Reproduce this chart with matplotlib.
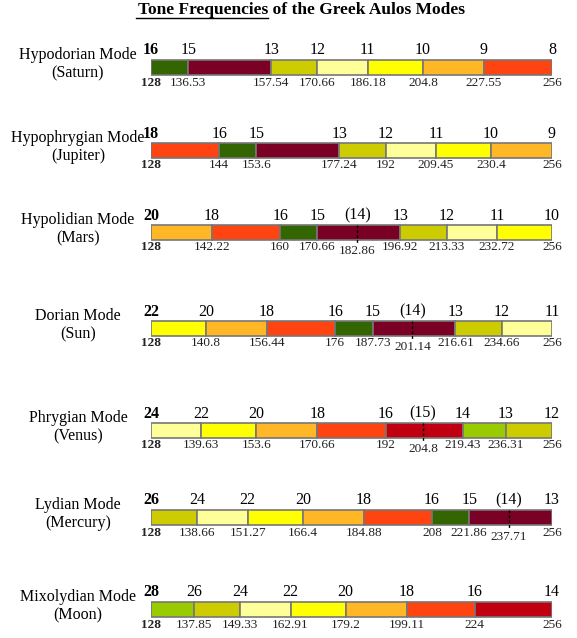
import matplotlib.pyplot as plt
from matplotlib.patches import Rectangle

plt.rcParams['font.family'] = ['Liberation Serif', 'DejaVu Serif']

GREEN = '#336600'
MAROON = '#7a0026'
OLIVE = '#cccc00'
PALE = '#ffff99'
YELLOW = '#ffff00'
ORANGE = '#ffb726'
RED = '#ff4411'
CRIMSON = '#c00010'
LIME = '#99cc00'

modeNames = ['Hypodorian Mode', 'Hypophrygian Mode', 'Hypolidian Mode', 'Dorian Mode',
             'Phrygian Mode', 'Lydian Mode', 'Mixolydian Mode']
planets = ['(Saturn)', '(Jupiter)', '(Mars)', '(Sun)', '(Venus)', '(Mercury)', '(Moon)']

# harmonic numbers at each boundary, strings in () are dashed marks
harmonics = [
    ['16', '15', '13', '12', '11', '10', '9', '8'],
    ['18', '16', '15', '13', '12', '11', '10', '9'],
    ['20', '18', '16', '15', '(14)', '13', '12', '11', '10'],
    ['22', '20', '18', '16', '15', '(14)', '13', '12', '11'],
    ['24', '22', '20', '18', '16', '(15)', '14', '13', '12'],
    ['26', '24', '22', '20', '18', '16', '15', '(14)', '13'],
    ['28', '26', '24', '22', '20', '18', '16', '14'],
]
freqs = [
    [128, 136.53, 157.54, 170.66, 186.18, 204.8, 227.55, 256],
    [128, 144, 153.6, 177.24, 192, 209.45, 230.4, 256],
    [128, 142.22, 160, 170.66, 182.86, 196.92, 213.33, 232.72, 256],
    [128, 140.8, 156.44, 176, 187.73, 201.14, 216.61, 234.66, 256],
    [128, 139.63, 153.6, 170.66, 192, 204.8, 219.43, 236.31, 256],
    [128, 138.66, 151.27, 166.4, 184.88, 208, 221.86, 237.71, 256],
    [128, 137.85, 149.33, 162.91, 179.2, 199.11, 224, 256],
]
segColors = [
    [GREEN, MAROON, OLIVE, PALE, YELLOW, ORANGE, RED],
    [RED, GREEN, MAROON, OLIVE, PALE, YELLOW, ORANGE],
    [ORANGE, RED, GREEN, MAROON, OLIVE, PALE, YELLOW],
    [YELLOW, ORANGE, RED, GREEN, MAROON, OLIVE, PALE],
    [PALE, YELLOW, ORANGE, RED, CRIMSON, LIME, OLIVE],
    [OLIVE, PALE, YELLOW, ORANGE, RED, GREEN, MAROON],
    [LIME, OLIVE, PALE, YELLOW, ORANGE, RED, CRIMSON],
]

W, H = 577, 638
rowY = [67, 150, 232, 328, 430, 517, 609]   # bar centres in pixels
barH = 15

fig = plt.figure(figsize=(W / 100, H / 100), dpi=100)
ax = fig.add_axes([151 / W, 0, 401 / W, 1])
ax.set_xscale('log', base=2)
ax.set_xlim(128, 256)
ax.set_ylim(H, 0)
ax.axis('off')

for i in range(len(modeNames)):
    y = rowY[i]
    f = freqs[i]
    labs = harmonics[i]
    solid = [k for k in range(len(f)) if not labs[k].startswith('(')]
    for s in range(len(solid) - 1):
        a, b = f[solid[s]], f[solid[s + 1]]
        ax.add_patch(Rectangle((a, y - barH / 2), b - a, barH, facecolor=segColors[i][s],
                               edgecolor='#777777', linewidth=1.2))
    for k in range(len(f)):
        w = 'bold' if k == 0 else 'normal'
        low = 0
        if labs[k].startswith('('):
            ax.plot([f[k], f[k]], [y - barH / 2, y + barH / 2 + 4], color='black',
                    linestyle=(0, (2, 1.5)), linewidth=1)
            low = 4
        ax.text(f[k], y - barH / 2 - 1, labs[k], ha='center', va='bottom', fontsize=11.5,
                fontweight=w, clip_on=False)
        ax.text(f[k], y + barH / 2 + 2 + low, f'{f[k]:g}', ha='center', va='top', fontsize=9.5,
                fontweight=w, clip_on=False, color='#222222')
    fig.text(78 / W, 1 - (y - 12) / H, modeNames[i], ha='center', va='center', fontsize=11.5)
    fig.text(78 / W, 1 - (y + 6) / H, planets[i], ha='center', va='center', fontsize=11.5)

fig.text(302 / W, 1 - 10 / H, 'Tone Frequencies of the Greek Aulos Modes', ha='center',
         va='center', fontsize=12.5, fontweight='bold')
fig.add_artist(plt.Line2D([136 / W, 268 / W], [1 - 18 / H, 1 - 18 / H], color='black',
                          linewidth=1))

fig.savefig('out.png', dpi=100)
